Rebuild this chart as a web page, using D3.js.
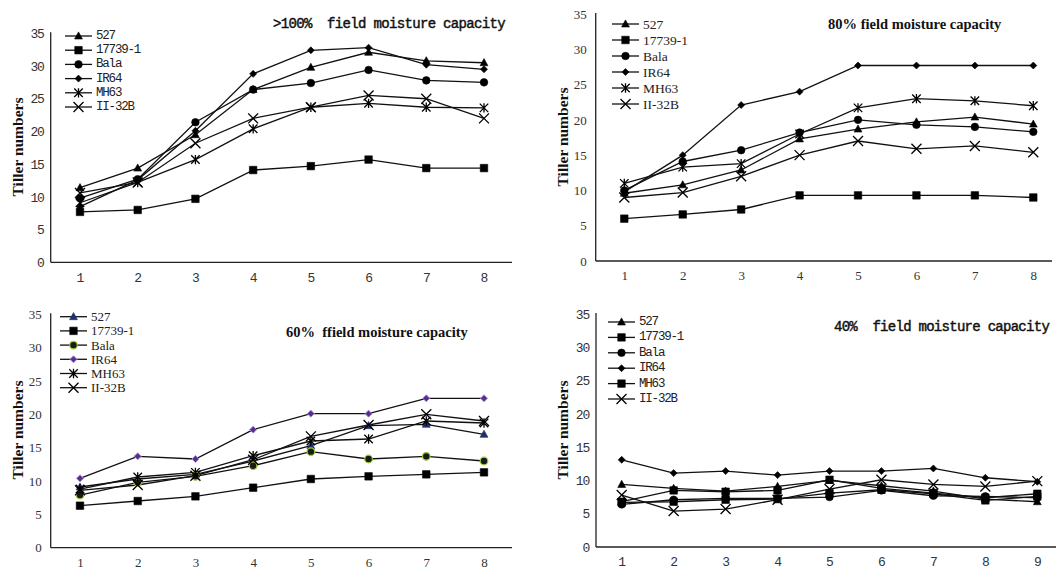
<!DOCTYPE html>
<html><head><meta charset="utf-8">
<script src="https://cdn.jsdelivr.net/npm/d3@7"></script>
<style>
html,body{margin:0;padding:0;background:#fff;}
svg{display:block;}
</style></head>
<body>
<svg id="chart" width="1056" height="571"></svg>
<script>
// ---------- DATA ----------
const days8 = [1, 2, 3, 4, 5, 6, 7, 8];
const days9 = [1, 2, 3, 4, 5, 6, 7, 8, 9];
const yTicks = [0, 5, 10, 15, 20, 25, 30, 35];
const seriesNames = ["527", "17739-1", "Bala", "IR64", "MH63", "II-32B"];

const titles = [">100%  field moisture capacity", "80% field moisture capacity", "60%  ffield moisture capacity", "40%  field moisture capacity"];
const yLabel = "Tiller numbers";

// >100% field moisture capacity
const w100_527    = [11.4, 14.4, 19.5, 26.4, 29.8, 32.1, 30.8, 30.5];
const w100_17739  = [7.7, 8.0, 9.7, 14.1, 14.7, 15.7, 14.4, 14.4];
const w100_Bala   = [9.8, 12.7, 21.4, 26.4, 27.4, 29.4, 27.8, 27.5];
const w100_IR64   = [8.5, 12.6, 20.1, 28.8, 32.4, 32.8, 30.2, 29.5];
const w100_MH63   = [9.1, 12.2, 15.7, 20.4, 23.7, 24.3, 23.7, 23.6];
const w100_II32B  = [10.6, 12.2, 18.2, 22.0, 23.7, 25.5, 25.0, 22.0];

// 80% field moisture capacity
const w80_527     = [9.6, 10.8, 12.9, 17.3, 18.7, 19.7, 20.4, 19.4];
const w80_17739   = [6.0, 6.6, 7.3, 9.3, 9.3, 9.3, 9.3, 9.0];
const w80_Bala    = [10.0, 14.1, 15.7, 18.2, 20.0, 19.3, 19.0, 18.3];
const w80_IR64    = [9.8, 15.0, 22.1, 24.0, 27.7, 27.7, 27.7, 27.7];
const w80_MH63    = [11.0, 13.3, 13.8, 18.0, 21.7, 23.0, 22.7, 22.0];
const w80_II32B   = [9.0, 9.7, 12.0, 15.0, 17.0, 15.9, 16.3, 15.4];

// 60% field moisture capacity
const w60_527     = [9.1, 10.3, 11.0, 13.0, 15.3, 18.3, 18.5, 17.0];
const w60_17739   = [6.3, 7.0, 7.7, 9.0, 10.3, 10.7, 11.0, 11.3];
const w60_Bala    = [7.9, 9.8, 10.7, 12.3, 14.4, 13.3, 13.7, 13.0];
const w60_IR64    = [10.4, 13.7, 13.3, 17.7, 20.1, 20.1, 22.4, 22.4];
const w60_MH63    = [8.8, 10.6, 11.3, 13.8, 16.0, 16.3, 19.0, 18.7];
const w60_II32B   = [8.6, 9.4, 10.8, 13.2, 16.7, 18.4, 20.0, 19.0];

// 40% field moisture capacity
const w40_527     = [9.4, 8.8, 8.4, 9.1, 10.0, 9.2, 8.4, 7.2, 6.8];
const w40_17739   = [6.8, 8.5, 8.3, 8.5, 10.1, 8.8, 8.1, 7.4, 8.0];
const w40_Bala    = [6.4, 7.1, 7.3, 7.3, 7.5, 8.5, 7.7, 7.6, 7.4];
const w40_IR64    = [13.1, 11.1, 11.4, 10.8, 11.4, 11.4, 11.8, 10.4, 9.8];
const w40_MH63    = [6.7, 6.8, 7.1, 7.2, 8.1, 8.6, 8.0, 7.0, 7.6];
const w40_II32B   = [7.8, 5.4, 5.7, 7.1, 8.7, 10.1, 9.4, 9.1, 9.9];

// ---------- LAYOUT ----------
const svg = d3.select("#chart");
const MONO = "'Liberation Mono', 'DejaVu Sans Mono', monospace";
const SERIF = "'Liberation Serif', 'Times New Roman', serif";

const panels = [
  { title: titles[0], cats: days8, data: [w100_527, w100_17739, w100_Bala, w100_IR64, w100_MH63, w100_II32B],
    markers: ["tri", "sq", "circ", "dia", "ast", "x"], colors: null,
    x0: 50.7, yTop: 33.3, yBot: 262.3, xFirst: 80, xLast: 484, xEnd: 512, font: "mono",
    titleX: 273, titleY: 28, titleLs: -0.67, legX: 65, legY: 36, legDy: 14.2, yLabX: 17, yLabY: 147 },
  { title: titles[1], cats: days8, data: [w80_527, w80_17739, w80_Bala, w80_IR64, w80_MH63, w80_II32B],
    markers: ["tri", "sq", "circ", "dia", "ast", "x"], colors: null,
    x0: 595.7, yTop: 14, yBot: 261, xFirst: 624.3, xLast: 1033.3, xEnd: 1052, font: "serif",
    titleX: 828, titleY: 29, legX: 612, legY: 24, legDy: 16, yLabX: 562, yLabY: 137 },
  { title: titles[2], cats: days8, data: [w60_527, w60_17739, w60_Bala, w60_IR64, w60_MH63, w60_II32B],
    markers: ["tri", "sq", "circ", "dia", "ast", "x"], colors: "colored",
    x0: 50.7, yTop: 314.3, yBot: 547.7, xFirst: 80, xLast: 484, xEnd: 512, font: "serif",
    titleX: 286, titleY: 337, legX: 60, legY: 316.7, legDy: 14.2, yLabX: 17, yLabY: 430 },
  { title: titles[3], cats: days9, data: [w40_527, w40_17739, w40_Bala, w40_IR64, w40_MH63, w40_II32B],
    markers: ["tri", "sq", "circ", "dia", "sq", "x"], colors: null,
    x0: 596, yTop: 314, yBot: 547, xFirst: 621.7, xLast: 1037.3, xEnd: 1056, font: "mono",
    titleX: 834, titleY: 331, titleLs: -0.72, legX: 608, legY: 322, legDy: 15.4, yLabX: 562, yLabY: 430 }
];

function markerPath(type, s) {
  const h = s / 2;
  switch (type) {
    case "tri": return `M0,${-h*1.1}L${h*1.05},${h*0.8}L${-h*1.05},${h*0.8}Z`;
    case "sq": return `M${-h},${-h}h${s}v${s}h${-s}Z`;
    case "dia": return `M0,${-h}L${h},0L0,${h}L${-h},0Z`;
    case "x": return `M${-h},${-h}L${h},${h}M${h},${-h}L${-h},${h}`;
    case "ast": return `M${-h},${-h}L${h},${h}M${h},${-h}L${-h},${h}M0,${-h*1.1}L0,${h*1.1}`;
  }
  return "";
}

function drawMarker(g, type, cx, cy, idx, colored) {
  let fill = "#000", stroke = "#000";
  if (colored) {
    if (idx === 0) { fill = "#1f2f6b"; stroke = "#1f2f6b"; }
    if (idx === 2) { fill = "#1a1a1a"; stroke = "#9acd32"; }
    if (idx === 3) { fill = "#5a2d8c"; stroke = "#a68bd6"; }
  }
  if (type === "circ") {
    g.append("circle").attr("cx", cx).attr("cy", cy).attr("r", 3.8)
      .attr("fill", fill).attr("stroke", stroke).attr("stroke-width", colored ? 1.2 : 0.6);
  } else if (type === "x" || type === "ast") {
    g.append("path").attr("transform", `translate(${cx},${cy})`)
      .attr("d", markerPath(type, type === "x" ? 10 : 8.5))
      .attr("fill", "none").attr("stroke", "#000").attr("stroke-width", 1.3);
  } else {
    const size = type === "sq" ? 7.5 : (type === "dia" ? 7 : 7.5);
    g.append("path").attr("transform", `translate(${cx},${cy})`)
      .attr("d", markerPath(type, size))
      .attr("fill", fill).attr("stroke", stroke).attr("stroke-width", colored && idx === 3 ? 1 : 0.6);
  }
}

panels.forEach(p => {
  const g = svg.append("g");
  const mono = p.font === "mono";
  const tickFont = mono ? MONO : SERIF;

  const x = d3.scalePoint().domain(p.cats).range([p.xFirst, p.xLast]);
  const y = d3.scaleLinear().domain([0, 35]).range([p.yBot, p.yTop]);

  // axes lines
  g.append("line").attr("x1", p.x0).attr("x2", p.x0).attr("y1", p.yTop - 1).attr("y2", p.yBot)
    .attr("stroke", "#222").attr("stroke-width", 1.3);
  g.append("line").attr("x1", p.x0).attr("x2", p.xEnd).attr("y1", p.yBot).attr("y2", p.yBot)
    .attr("stroke", "#222").attr("stroke-width", 1.3);

  // y axis ticks
  const ya = g.append("g").attr("transform", `translate(${p.x0},0)`)
    .call(d3.axisLeft(y).tickValues(yTicks).tickSize(0).tickPadding(mono ? 7 : 9));
  ya.select(".domain").remove();
  ya.selectAll("text").attr("font-family", tickFont).attr("font-size", 13)
    .attr("fill", "#333");
  if (mono) ya.selectAll("text").attr("letter-spacing", -1.2);

  // x axis ticks
  const xa = g.append("g").attr("transform", `translate(0,${p.yBot})`)
    .call(d3.axisBottom(x).tickSize(0).tickPadding(10));
  xa.select(".domain").remove();
  xa.selectAll("text").attr("font-family", tickFont).attr("font-size", 13)
    .attr("fill", "#333");

  // y label
  g.append("text").attr("transform", `translate(${p.yLabX},${p.yLabY}) rotate(-90)`)
    .attr("text-anchor", "middle").attr("dominant-baseline", "central")
    .attr("font-family", SERIF).attr("font-weight", "bold").attr("font-size", 15.5)
    .attr("fill", "#111").text(yLabel);

  // title
  const t = g.append("text").attr("x", p.titleX).attr("y", p.titleY)
    .attr("fill", "#111").style("white-space", "pre").text(p.title);
  if (mono) t.attr("font-family", MONO).attr("font-size", 14).attr("letter-spacing", p.titleLs)
    .attr("stroke", "#111").attr("stroke-width", 0.45);
  else t.attr("font-family", SERIF).attr("font-size", 14.5).attr("font-weight", "bold");

  // lines
  const line = d3.line().x((d, i) => x(p.cats[i])).y(d => y(d));
  p.data.forEach((vals) => {
    g.append("path").datum(vals).attr("d", line).attr("fill", "none")
      .attr("stroke", "#111").attr("stroke-width", 1.3);
  });
  p.data.forEach((vals, si) => {
    vals.forEach((v, i) => drawMarker(g, p.markers[si], x(p.cats[i]), y(v), si, p.colors === "colored"));
  });

  // legend
  seriesNames.forEach((name, si) => {
    const ly = p.legY + si * p.legDy;
    g.append("line").attr("x1", p.legX).attr("x2", p.legX + 27).attr("y1", ly).attr("y2", ly)
      .attr("stroke", "#111").attr("stroke-width", 1.3);
    drawMarker(g, p.markers[si], p.legX + 13.5, ly, si, p.colors === "colored");
    const lt = g.append("text").attr("x", p.legX + 31).attr("y", ly).attr("dominant-baseline", "central")
      .attr("fill", "#222").text(name);
    if (mono) lt.attr("font-family", MONO).attr("font-size", 12.5).attr("letter-spacing", -1.2);
    else lt.attr("font-family", SERIF).attr("font-size", p.legDy > 15 ? 13.5 : 13);
  });
});
</script>
</body></html>
